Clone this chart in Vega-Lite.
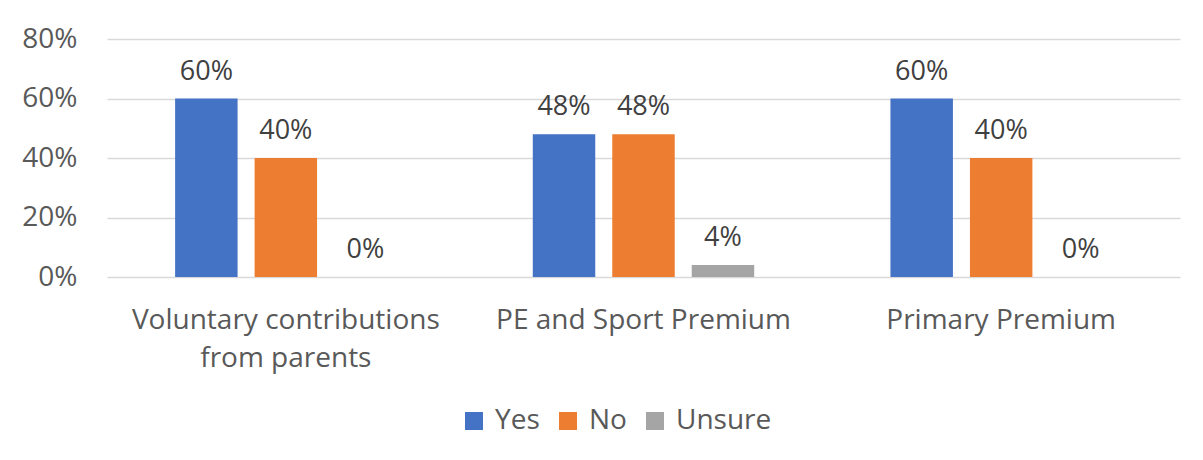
{
  "$schema": "https://vega.github.io/schema/vega-lite/v6.json",
  "width": 1073,
  "height": 238,
  "autosize": {"type": "none"},
  "padding": {"left": 107, "top": 39, "right": 23, "bottom": 183},
  "background": "white",
  "config": {
    "view": {"stroke": null},
    "font": "Open Sans"
  },
  "data": {
    "values": [
      {"category": "Voluntary contributions from parents", "answer": "Yes", "value": 0.60},
      {"category": "Voluntary contributions from parents", "answer": "No", "value": 0.40},
      {"category": "Voluntary contributions from parents", "answer": "Unsure", "value": 0.0},
      {"category": "PE and Sport Premium", "answer": "Yes", "value": 0.48},
      {"category": "PE and Sport Premium", "answer": "No", "value": 0.48},
      {"category": "PE and Sport Premium", "answer": "Unsure", "value": 0.04},
      {"category": "Primary Premium", "answer": "Yes", "value": 0.60},
      {"category": "Primary Premium", "answer": "No", "value": 0.40},
      {"category": "Primary Premium", "answer": "Unsure", "value": 0.0}
    ]
  },
  "encoding": {
    "x": {
      "field": "category",
      "type": "nominal",
      "sort": ["Voluntary contributions from parents", "PE and Sport Premium", "Primary Premium"],
      "scale": {"paddingInner": 0, "paddingOuter": 0},
      "axis": {
        "title": null,
        "domain": false,
        "ticks": false,
        "tickSize": 0,
        "labelAngle": 0,
        "labelFont": "Open Sans",
        "labelFontSize": 28,
        "labelColor": "#595959",
        "labelBaseline": "alphabetic",
        "labelPadding": 51,
        "labelLineHeight": 38,
        "labelLimit": 0,
        "labelExpr": "datum.value == 'Voluntary contributions from parents' ? ['Voluntary contributions', 'from parents'] : datum.label"
      }
    },
    "xOffset": {
      "field": "answer",
      "type": "nominal",
      "sort": ["Yes", "No", "Unsure"],
      "scale": {"paddingInner": 0.214, "paddingOuter": 0.857}
    },
    "y": {
      "field": "value",
      "type": "quantitative",
      "scale": {"domain": [0, 0.8], "nice": false},
      "axis": {
        "title": null,
        "values": [0, 0.2, 0.4, 0.6, 0.8],
        "format": ".0%",
        "domain": false,
        "ticks": false,
        "tickSize": 0,
        "grid": true,
        "gridColor": "#d9d9d9",
        "gridWidth": 1.5,
        "labelFont": "Open Sans",
        "labelFontSize": 28,
        "labelColor": "#595959",
        "labelPadding": 30
      }
    }
  },
  "layer": [
    {
      "mark": {"type": "bar"},
      "encoding": {
        "color": {
          "field": "answer",
          "type": "nominal",
          "sort": ["Yes", "No", "Unsure"],
          "scale": {"domain": ["Yes", "No", "Unsure"], "range": ["#4472C4", "#ED7D31", "#A5A5A5"]},
          "legend": {
            "title": null,
            "orient": "none",
            "direction": "horizontal",
            "legendX": 353,
            "legendY": 368,
            "symbolType": "square",
            "symbolSize": 324,
            "symbolStrokeWidth": 0,
            "labelFont": "Open Sans",
            "labelFontSize": 28,
            "labelColor": "#595959",
            "labelOffset": 7,
            "columnPadding": 14
          }
        }
      }
    },
    {
      "mark": {"type": "text", "dy": -19, "baseline": "alphabetic", "fontSize": 27, "font": "Open Sans", "color": "#404040"},
      "encoding": {
        "text": {"field": "value", "type": "quantitative", "format": ".0%"}
      }
    }
  ]
}
